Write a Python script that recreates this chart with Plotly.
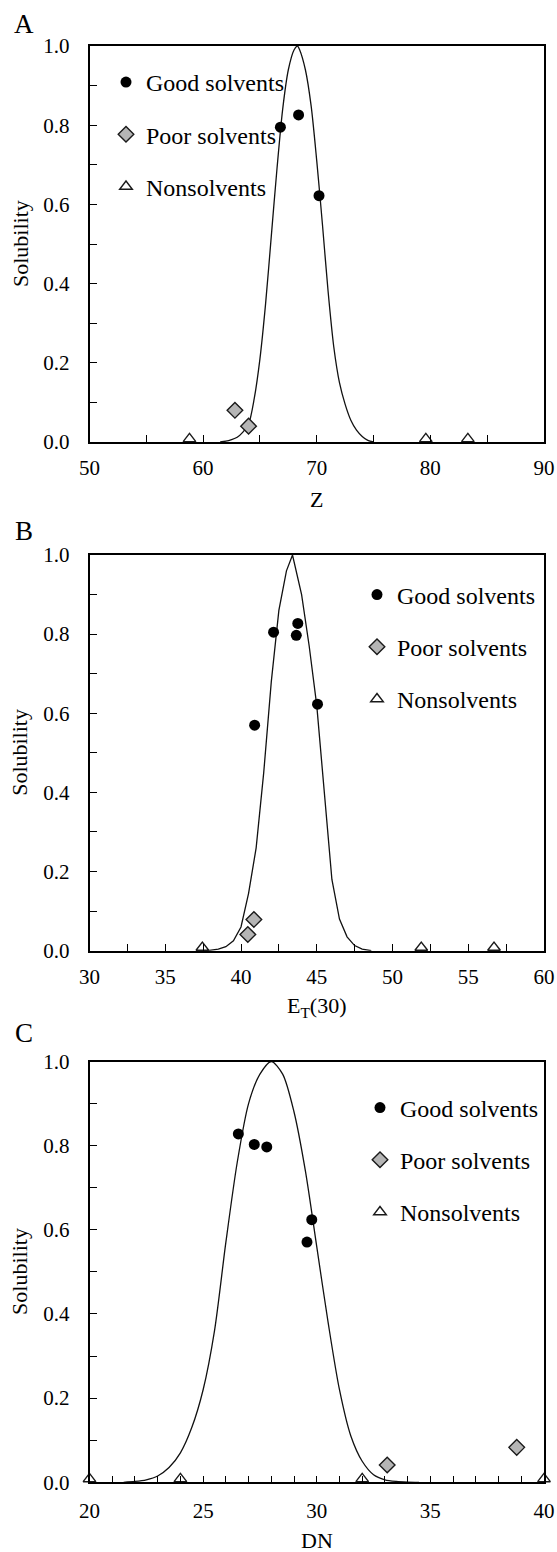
import plotly.graph_objects as go

SERIF = "Liberation Serif, Times New Roman, serif"
W, H = 557, 1552

# ---------------- Panel A (Z) ----------------
a_good_x = [66.8, 68.4, 70.2]
a_good_y = [0.795, 0.826, 0.622]
a_poor_x = [62.8, 64.0]
a_poor_y = [0.080, 0.040]
a_non_x = [58.8, 79.6, 83.3]
a_non_y = [0.008, 0.008, 0.008]
a_fit_x = [61.5, 62, 62.5, 63, 63.5, 64, 64.5, 65, 65.5, 66, 66.5, 67, 67.5, 68, 68.3,
           68.5, 69, 69.5, 70, 70.5, 71, 71.5, 72, 72.5, 73, 73.5, 74, 74.5, 75]
a_fit_y = [0.0, 0.002, 0.006, 0.012, 0.025, 0.045, 0.11, 0.21, 0.35, 0.52, 0.69, 0.84, 0.94, 0.99, 1.0,
           0.99, 0.94, 0.85, 0.71, 0.55, 0.38, 0.24, 0.15, 0.095, 0.055, 0.03, 0.014, 0.004, 0.0]

# ---------------- Panel B (ET(30)) ----------------
b_good_x = [42.15, 43.75, 43.65, 45.05, 40.9]
b_good_y = [0.805, 0.827, 0.797, 0.623, 0.570]
b_poor_x = [40.85, 40.45]
b_poor_y = [0.079, 0.041]
b_non_x = [37.45, 51.9, 56.7]
b_non_y = [0.008, 0.008, 0.008]
b_fit_x = [37.8, 38, 38.5, 39, 39.5, 40, 40.5, 41, 41.5, 42, 42.5, 43, 43.4,
           44, 44.5, 45, 45.5, 46, 46.5, 47, 47.5, 48, 48.6]
b_fit_y = [0.0, 0.001, 0.004, 0.01, 0.025, 0.06, 0.145, 0.26, 0.45, 0.68, 0.86, 0.96, 1.0,
           0.90, 0.77, 0.62, 0.40, 0.18, 0.08, 0.035, 0.013, 0.004, 0.0]

# ---------------- Panel C (DN) ----------------
c_good_x = [26.55, 27.25, 27.8, 29.78, 29.57]
c_good_y = [0.828, 0.803, 0.797, 0.624, 0.571]
c_poor_x = [33.1, 38.8]
c_poor_y = [0.041, 0.083]
c_non_x = [20.0, 24.0, 32.0, 40.0]
c_non_y = [0.008, 0.008, 0.008, 0.008]
c_fit_x = [21.5, 22, 22.5, 23, 23.5, 24, 24.5, 25, 25.5, 26, 26.5, 27, 27.5, 28,
           28.5, 29, 29.5, 30, 30.5, 31, 31.5, 32, 32.5, 33, 33.5, 34, 34.5]
c_fit_y = [0.0, 0.002, 0.006, 0.015, 0.035, 0.07, 0.13, 0.22, 0.36, 0.57, 0.76, 0.90, 0.97, 1.0,
           0.97, 0.88, 0.74, 0.56, 0.38, 0.22, 0.11, 0.05, 0.018, 0.006, 0.002, 0.0005, 0.0]

panels = [
    dict(good=(a_good_x, a_good_y), poor=(a_poor_x, a_poor_y), non=(a_non_x, a_non_y),
         fit=(a_fit_x, a_fit_y), shape="spline", xr=[50, 90], dt=10, mdt=5, top=46, bot=442,
         letter="A", letter_y=24, title="Z", title_y=500, xstand=6,
         leg_x=106, leg_top=60, lname="legend"),
    dict(good=(b_good_x, b_good_y), poor=(b_poor_x, b_poor_y), non=(b_non_x, b_non_y),
         fit=(b_fit_x, b_fit_y), shape="linear", xr=[30, 60], dt=5, mdt=2.5, top=555, bot=950.7,
         letter="B", letter_y=531, title="E<sub>T</sub>(30)", title_y=1007, xstand=6,
         leg_x=357, leg_top=572.5, lname="legend2"),
    dict(good=(c_good_x, c_good_y), poor=(c_poor_x, c_poor_y), non=(c_non_x, c_non_y),
         fit=(c_fit_x, c_fit_y), shape="spline", xr=[20, 40], dt=5, mdt=1, top=1061.5, bot=1482.3,
         letter="C", letter_y=1033, title="DN", title_y=1540, xstand=9,
         leg_x=360, leg_top=1085.5, lname="legend3"),
]

X0, X1 = 89.5, 544.0
fig = go.Figure()
annotations = []
layout_axes = {}

for i, p in enumerate(panels, start=1):
    xa = "x" if i == 1 else f"x{i}"
    ya = "y" if i == 1 else f"y{i}"
    lg = p["lname"]
    fig.add_trace(go.Scatter(x=p["fit"][0], y=p["fit"][1], mode="lines", xaxis=xa, yaxis=ya,
                             line=dict(color="#111111", width=1.3, shape=p["shape"], smoothing=0.8),
                             showlegend=False, hoverinfo="skip"))
    fig.add_trace(go.Scatter(x=p["good"][0], y=p["good"][1], mode="markers", xaxis=xa, yaxis=ya,
                             name="Good solvents", legend=lg, legendgroup=f"g{i}",
                             marker=dict(symbol="circle", size=11, color="black"), cliponaxis=False))
    fig.add_trace(go.Scatter(x=p["poor"][0], y=p["poor"][1], mode="markers", xaxis=xa, yaxis=ya,
                             name="Poor solvents", legend=lg, legendgroup=f"p{i}",
                             marker=dict(symbol="diamond", size=12, color="#b5b5b5",
                                         line=dict(color="#1a1a1a", width=1.4)), cliponaxis=False))
    fig.add_trace(go.Scatter(x=p["non"][0], y=p["non"][1], mode="markers", xaxis=xa, yaxis=ya,
                             name="Nonsolvents", legend=lg, legendgroup=f"n{i}",
                             marker=dict(symbol="triangle-up", size=11, color="white",
                                         line=dict(color="#1a1a1a", width=1.4)), cliponaxis=False))

    ydom = [1 - p["bot"] / H, 1 - p["top"] / H]
    xkey = "xaxis" if i == 1 else f"xaxis{i}"
    ykey = "yaxis" if i == 1 else f"yaxis{i}"
    layout_axes[xkey] = dict(
        domain=[X0 / W, X1 / W], anchor=ya, range=p["xr"], dtick=p["dt"], tick0=0,
        ticks="inside", ticklen=7, tickwidth=1.3, tickcolor="black",
        minor=dict(dtick=p["mdt"], tick0=0, ticks="inside", ticklen=7, tickwidth=1.3,
                   tickcolor="black", showgrid=False),
        showline=True, linecolor="black", linewidth=1.5, mirror=True,
        showgrid=False, zeroline=False, ticklabelstandoff=p["xstand"],
        tickfont=dict(family=SERIF, size=21, color="black"), fixedrange=True)
    layout_axes[ykey] = dict(
        domain=ydom, anchor=xa, range=[0, 1], dtick=0.2, tick0=0, tickformat=".1f",
        ticks="inside", ticklen=8, tickwidth=1.3, tickcolor="black",
        minor=dict(dtick=0.1, tick0=0, ticks="inside", ticklen=8, tickwidth=1.3,
                   tickcolor="black", showgrid=False),
        showline=True, linecolor="black", linewidth=1.5, mirror=True,
        showgrid=False, zeroline=False, ticklabelstandoff=14,
        tickfont=dict(family=SERIF, size=21, color="black"), fixedrange=True)

    layout_axes[lg] = dict(x=p["leg_x"] / W, y=1 - p["leg_top"] / H, xanchor="left", yanchor="top",
                           bgcolor="rgba(0,0,0,0)", borderwidth=0, tracegroupgap=18,
                           font=dict(family=SERIF, size=24, color="black"))

    annotations.append(dict(text=p["letter"], x=24 / W, y=1 - p["letter_y"] / H, xref="paper", yref="paper",
                            xanchor="center", yanchor="middle", showarrow=False,
                            font=dict(family=SERIF, size=27, color="black")))
    annotations.append(dict(text=p["title"], x=(X0 + X1) / 2 / W, y=1 - p["title_y"] / H, xref="paper",
                            yref="paper", xanchor="center", yanchor="middle", showarrow=False,
                            font=dict(family=SERIF, size=22, color="black")))
    annotations.append(dict(text="Solubility", x=20 / W, y=1 - (p["top"] + p["bot"]) / 2 / H, xref="paper",
                            yref="paper", xanchor="center", yanchor="middle", showarrow=False, textangle=-90,
                            font=dict(family=SERIF, size=22, color="black")))

fig.update_layout(
    width=W, height=H, template="none",
    margin=dict(l=0, r=0, t=0, b=0),
    paper_bgcolor="white", plot_bgcolor="white",
    annotations=annotations, showlegend=True,
    **layout_axes)

fig.write_html("out.html")
